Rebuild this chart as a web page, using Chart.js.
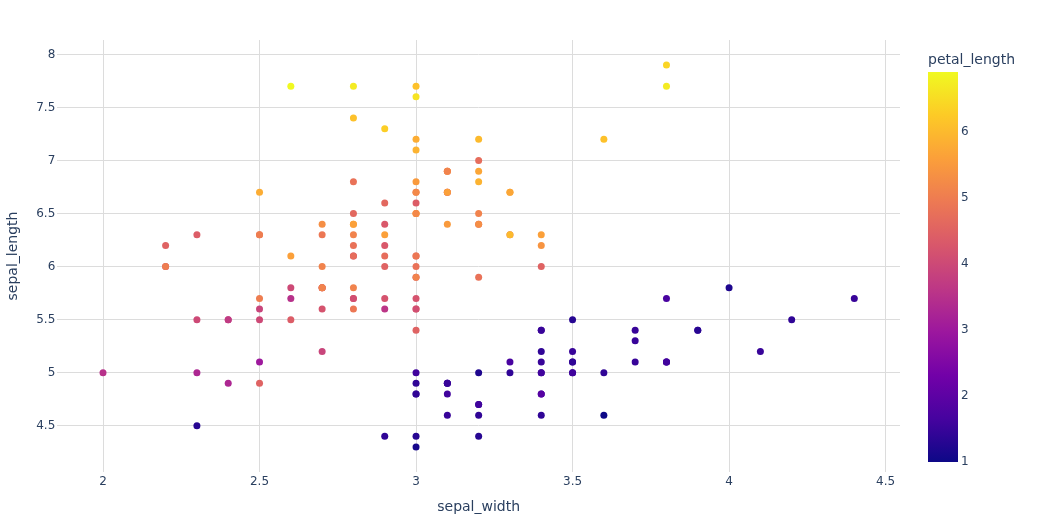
<!DOCTYPE html>
<html>
<head>
<meta charset="utf-8">
<script src="https://cdn.jsdelivr.net/npm/chart.js@4.4.1/dist/chart.umd.min.js"></script>
<style>
  html, body { margin: 0; padding: 0; background: #fff; }
  #wrap { position: relative; width: 1038px; height: 525px; }
  #main { position: absolute; left: 0; top: 0; }
  #cbar { position: absolute; left: 900px; top: 0; }
  #cbTitle { position: absolute; left: 928px; top: 51px; font: 14px "DejaVu Sans", sans-serif; color: #2a3f5f; white-space: nowrap; }
</style>
</head>
<body>
<div id="wrap">
  <canvas id="main" width="1038" height="525"></canvas>
  <canvas id="cbar" width="138" height="525"></canvas>
  <div id="cbTitle">petal_length</div>
</div>
<script>
// iris: sepal_width (x), sepal_length (y), petal_length (colour)
const sepalWidth = [
  3.5,3.0,3.2,3.1,3.6,3.9,3.4,3.4,2.9,3.1,3.7,3.4,3.0,3.0,4.0,4.4,3.9,3.5,3.8,3.8,
  3.4,3.7,3.6,3.3,3.4,3.0,3.4,3.5,3.4,3.2,3.1,3.4,4.1,4.2,3.1,3.2,3.5,3.1,3.0,3.4,
  3.5,2.3,3.2,3.5,3.8,3.0,3.8,3.2,3.7,3.3,
  3.2,3.2,3.1,2.3,2.8,2.8,3.3,2.4,2.9,2.7,2.0,3.0,2.2,2.9,2.9,3.1,3.0,2.7,2.2,2.5,
  3.2,2.8,2.5,2.8,2.9,3.0,2.8,3.0,2.9,2.6,2.4,2.4,2.7,2.7,3.0,3.4,3.1,2.3,3.0,2.5,
  2.6,3.0,2.6,2.3,2.7,3.0,2.9,2.9,2.5,2.8,
  3.3,2.7,3.0,2.9,3.0,3.0,2.5,2.9,2.5,3.6,3.2,2.7,3.0,2.5,2.8,3.2,3.0,3.8,2.6,2.2,
  3.2,2.8,2.8,2.7,3.3,3.2,2.8,3.0,2.8,3.0,2.8,3.8,2.8,2.8,2.6,3.0,3.4,3.1,3.0,3.1,
  3.1,3.1,2.7,3.2,3.3,3.0,2.5,3.0,3.4,3.0
];
const sepalLength = [
  5.1,4.9,4.7,4.6,5.0,5.4,4.6,5.0,4.4,4.9,5.4,4.8,4.8,4.3,5.8,5.7,5.4,5.1,5.7,5.1,
  5.4,5.1,4.6,5.1,4.8,5.0,5.0,5.2,5.2,4.7,4.8,5.4,5.2,5.5,4.9,5.0,5.5,4.9,4.4,5.1,
  5.0,4.5,4.4,5.0,5.1,4.8,5.1,4.6,5.3,5.0,
  7.0,6.4,6.9,5.5,6.5,5.7,6.3,4.9,6.6,5.2,5.0,5.9,6.0,6.1,5.6,6.7,5.6,5.8,6.2,5.6,
  5.9,6.1,6.3,6.1,6.4,6.6,6.8,6.7,6.0,5.7,5.5,5.5,5.8,6.0,5.4,6.0,6.7,6.3,5.6,5.5,
  5.5,6.1,5.8,5.0,5.6,5.7,5.7,6.2,5.1,5.7,
  6.3,5.8,7.1,6.3,6.5,7.6,4.9,7.3,6.7,7.2,6.5,6.4,6.8,5.7,5.8,6.4,6.5,7.7,7.7,6.0,
  6.9,5.6,7.7,6.3,6.7,7.2,6.2,6.1,6.4,7.2,7.4,7.9,6.4,6.3,6.1,7.7,6.3,6.4,6.0,6.9,
  6.7,6.9,5.8,6.8,6.7,6.7,6.3,6.5,6.2,5.9
];
const petalLength = [
  1.4,1.4,1.3,1.5,1.4,1.7,1.4,1.5,1.4,1.5,1.5,1.6,1.4,1.1,1.2,1.5,1.3,1.4,1.7,1.5,
  1.7,1.5,1.0,1.7,1.9,1.6,1.6,1.5,1.4,1.6,1.6,1.5,1.5,1.4,1.5,1.2,1.3,1.5,1.3,1.5,
  1.3,1.3,1.3,1.6,1.9,1.4,1.6,1.4,1.5,1.4,
  4.7,4.5,4.9,4.0,4.6,4.5,4.7,3.3,4.6,3.9,3.5,4.2,4.0,4.7,3.6,4.4,4.5,4.1,4.5,3.9,
  4.8,4.0,4.9,4.7,4.3,4.4,4.8,5.0,4.5,3.5,3.8,3.7,3.9,5.1,4.5,4.5,4.7,4.4,4.1,4.0,
  4.4,4.6,4.0,3.3,4.2,4.2,4.2,4.3,3.0,4.1,
  6.0,5.1,5.9,5.6,5.8,6.6,4.5,6.3,5.8,6.1,5.1,5.3,5.5,5.0,5.1,5.3,5.5,6.7,6.9,5.0,
  5.7,4.9,6.7,4.9,5.7,6.0,4.8,4.9,5.6,5.8,6.1,6.4,5.6,5.1,5.6,6.1,5.6,5.5,4.8,5.4,
  5.6,5.1,5.1,5.9,5.7,5.2,5.0,5.2,5.4,5.1
];
const xTicks = [2, 2.5, 3, 3.5, 4, 4.5];
const yTicks = [4.5, 5, 5.5, 6, 6.5, 7, 7.5, 8];
const cbTicks = [1, 2, 3, 4, 5, 6];

const plasma = ['#0d0887','#46039f','#7201a8','#9c179e','#bd3786','#d8576b','#ed7953','#fb9f3a','#fdca26','#f0f921'];
const cMin = Math.min(...petalLength), cMax = Math.max(...petalLength);

function hexRgb(h) { return [1,3,5].map(i => parseInt(h.substr(i,2),16)); }
function plasmaColor(v) {
  let t = (v - cMin) / (cMax - cMin);
  t = Math.max(0, Math.min(1, t)) * (plasma.length - 1);
  const i = Math.min(Math.floor(t), plasma.length - 2), f = t - i;
  const a = hexRgb(plasma[i]), b = hexRgb(plasma[i+1]);
  const c = a.map((x, k) => Math.round(x + (b[k]-x)*f));
  return 'rgb(' + c.join(',') + ')';
}

const points = sepalWidth.map((x, i) => ({ x: x, y: sepalLength[i] }));
const colors = petalLength.map(plasmaColor);

const font = { family: '"DejaVu Sans", sans-serif', size: 12 };
const txt = '#2a3f5f';
const grid = '#dcdcdc';

new Chart(document.getElementById('main'), {
  type: 'scatter',
  data: { datasets: [{
    data: points,
    pointRadius: 3.5,
    pointHoverRadius: 3.5,
    pointBorderWidth: 0,
    pointBackgroundColor: colors,
    pointBorderColor: colors
  }]},
  options: {
    responsive: false,
    animation: false,
    layout: { padding: { left: 0, right: 138, top: 40, bottom: 0 } },
    plugins: { legend: { display: false }, tooltip: { enabled: false } },
    scales: {
      x: {
        min: 1.854, max: 4.546,
        afterBuildTicks: s => { s.ticks = xTicks.map(v => ({ value: v })); },
        afterFit: s => { s.height = 53; },
        ticks: { font: font, color: txt, padding: 3, callback: v => String(v) },
        grid: { color: grid, drawTicks: false },
        border: { display: false },
        title: { display: true, text: 'sepal_width', color: txt, font: { family: font.family, size: 14 }, padding: { top: 8, bottom: 9.5 } }
      },
      y: {
        min: 4.064, max: 8.136,
        afterBuildTicks: s => { s.ticks = yTicks.map(v => ({ value: v })); },
        afterFit: s => { s.width = 57.3; },
        ticks: { font: font, color: txt, padding: 2, callback: v => String(v) },
        grid: { color: grid, drawTicks: false },
        border: { display: false },
        title: { display: true, text: 'sepal_length', color: txt, font: { family: font.family, size: 14 }, padding: { top: 5, bottom: 20 } }
      }
    }
  }
});

// colour bar: its own chart, the gradient follows the y scale
const barPlugin = {
  id: 'bar',
  beforeDraw(chart) {
    const a = chart.chartArea, s = chart.scales.y, ctx = chart.ctx;
    const g = ctx.createLinearGradient(0, s.getPixelForValue(cMin), 0, s.getPixelForValue(cMax));
    plasma.forEach((c, i) => g.addColorStop(i / (plasma.length - 1), c));
    ctx.save();
    ctx.fillStyle = g;
    ctx.fillRect(a.left, s.getPixelForValue(cMax), a.right - a.left, s.getPixelForValue(cMin) - s.getPixelForValue(cMax));
    ctx.restore();
  }
};
new Chart(document.getElementById('cbar'), {
  type: 'scatter',
  data: { datasets: [] },
  plugins: [barPlugin],
  options: {
    responsive: false,
    animation: false,
    layout: { padding: { left: 28, right: 0, top: 72, bottom: 63 } },
    plugins: { legend: { display: false }, tooltip: { enabled: false } },
    scales: {
      x: { display: false, min: 0, max: 1 },
      y: {
        position: 'right',
        min: cMin, max: cMax,
        afterBuildTicks: s => { s.ticks = cbTicks.map(v => ({ value: v })); },
        afterFit: s => { s.width = 80; },
        ticks: { font: font, color: txt, padding: 3, callback: v => String(v) },
        grid: { display: false, drawTicks: false },
        border: { display: false }
      }
    }
  }
});
</script>
</body>
</html>
